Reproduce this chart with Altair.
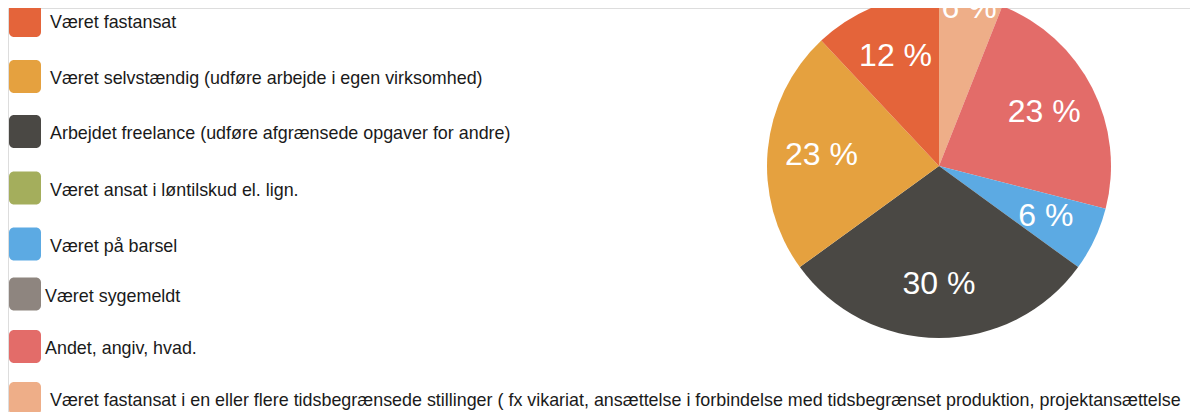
import altair as alt
import pandas as pd

# Legend (all answer options, in legend order)
legend_labels = [
    "Været fastansat",
    "Været selvstændig (udføre arbejde i egen virksomhed)",
    "Arbejdet freelance (udføre afgrænsede opgaver for andre)",
    "Været ansat i løntilskud el. lign.",
    "Været på barsel",
    "Været sygemeldt",
    "Andet, angiv, hvad.",
    "Været fastansat i en eller flere tidsbegrænsede stillinger ( fx vikariat, ansættelse i forbindelse med tidsbegrænset produktion, projektansættelse",
]
legend_colors = ["#E4643A", "#E5A13F", "#4A4844", "#A4AE5C", "#5CAAE3", "#8E857F", "#E36C69", "#EEAE88"]

# Pie slices, clockwise from 12 o'clock
pie_labels = [legend_labels[7], legend_labels[6], legend_labels[4], legend_labels[2], legend_labels[1], legend_labels[0]]
pie_values = [6, 23, 6, 30, 23, 12]

legend_df = pd.DataFrame({"cat": legend_labels, "i": list(range(len(legend_labels)))})
pie_df = pd.DataFrame({"cat": pie_labels, "value": pie_values, "ord": list(range(len(pie_labels)))})

FONT = "Liberation Sans"
color = alt.Color("cat:N", scale=alt.Scale(domain=legend_labels, range=legend_colors), legend=None)

# legend row placement (pixel rows of the legend layout)
row_px = [12.5, 68.5, 123.5, 180, 236, 286, 338.5, 390.5]
yrows = alt.Y(
    "i:Q", axis=None,
    scale=alt.Scale(domain=list(range(len(row_px))), range=row_px, zero=False, nice=False),
)

leg_rect = alt.Chart(legend_df).mark_rect(cornerRadius=5, height=33).encode(
    x=alt.value(1), x2=alt.value(33), y=yrows, color=color
)
leg_text = alt.Chart(legend_df).transform_calculate(
    tx="(datum.i == 5 || datum.i == 6) ? 37 : 42"
).mark_text(
    align="left", baseline="middle", font=FONT, fontSize=17.9, color="#1a1a1a", dy=2.5
).encode(x=alt.X("tx:Q", scale=None, axis=None), y=yrows, text="cat:N")

CX, CY = 931, 158
total = sum(pie_values)
theta_scale = alt.Scale(domain=[0, total])

arc = alt.Chart(pie_df).mark_arc(outerRadius=172).encode(
    theta=alt.Theta("value:Q", stack=True, scale=theta_scale),
    order=alt.Order("ord:Q"),
    color=color,
    x=alt.value(CX), y=alt.value(CY),
)
pie_text = alt.Chart(pie_df).transform_stack(
    stack="value", as_=["v0", "v1"], groupby=[], sort=[alt.SortField("ord", order="ascending")]
).transform_calculate(
    mid="(datum.v0 + datum.v1) / 2",
    lr="datum.ord == 0 ? 161 : 118",
    lab="datum.value + ' %'",
).mark_text(font=FONT, fontSize=32, color="white", baseline="middle", align="center").encode(
    theta=alt.Theta("mid:Q", stack=None, scale=theta_scale),
    radius=alt.Radius("lr:Q", scale=None),
    text="lab:N",
    x=alt.value(CX), y=alt.value(CY),
)

chart = alt.layer(leg_rect, leg_text, arc, pie_text).properties(
    width=1182, height=404, padding=0, autosize="none"
).configure_view(stroke=None).configure(background="white")

chart.save("out.html", embed_options={"renderer": "svg", "actions": False})
